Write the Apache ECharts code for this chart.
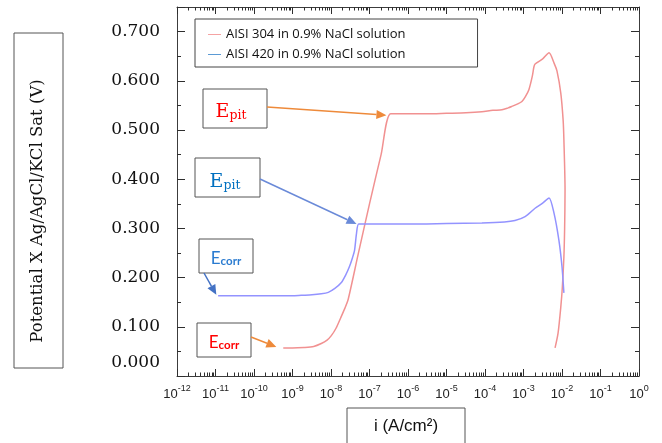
<!DOCTYPE html>
<html><head><meta charset="utf-8">
<script src="https://cdn.jsdelivr.net/npm/echarts@6/dist/echarts.min.js"></script>
<style>html,body{margin:0;padding:0;background:#fff}#c{width:662px;height:443px}</style>
</head><body><div id="c"></div>
<script>
// ---------- data ----------
const seriesNames = ['AISI 304 in 0.9% NaCl solution', 'AISI 420 in 0.9% NaCl solution'];

const current304 = [5.75e-10, 1.0e-9, 2.0e-9, 3.55e-9, 5.6e-9, 7.9e-9, 1.02e-8, 1.35e-8, 1.78e-8, 2.3e-8, 2.8e-8,
  5.0e-8, 1.0e-7, 2.0e-7, 3.55e-7, 1.0e-6, 3.2e-6, 1.0e-5, 3.2e-5, 8.3e-5, 1.6e-4, 2.75e-4, 4.0e-4, 5.0e-4,
  7.1e-4, 9.1e-4, 1.12e-3, 1.38e-3, 1.7e-3, 1.86e-3, 2.0e-3, 3.2e-3, 4.6e-3, 6.3e-3, 7.4e-3, 9.3e-3, 1.07e-2,
  1.12e-2, 1.2e-2, 1.17e-2, 1.12e-2, 1.02e-2, 9.3e-3, 7.9e-3, 6.6e-3];
const potential304 = [0.057, 0.057, 0.058, 0.060, 0.066, 0.073, 0.082, 0.097, 0.118, 0.138, 0.156,
  0.245, 0.350, 0.450, 0.533, 0.533, 0.533, 0.534, 0.535, 0.537, 0.540, 0.541, 0.545, 0.548,
  0.553, 0.558, 0.568, 0.582, 0.610, 0.628, 0.634, 0.645, 0.657, 0.635, 0.620, 0.575, 0.520,
  0.480, 0.378, 0.300, 0.242, 0.180, 0.140, 0.087, 0.057];

const current420 = [1.17e-11, 3.2e-11, 1e-10, 3.2e-10, 1e-9, 1.7e-9, 3.2e-9, 5.6e-9, 8.5e-9, 1.26e-8, 1.86e-8,
  2.4e-8, 3.0e-8, 3.6e-8, 4.1e-8, 4.6e-8, 5.25e-8, 1e-7, 1e-6, 1e-5, 8.3e-5, 3.2e-4, 6.0e-4, 1.1e-3,
  2.0e-3, 3.2e-3, 4.6e-3, 6.2e-3, 8.3e-3, 1.0e-2, 1.12e-2];
const potential420 = [0.163, 0.163, 0.163, 0.163, 0.163, 0.164, 0.165, 0.167, 0.170, 0.178, 0.190,
  0.205, 0.222, 0.240, 0.256, 0.290, 0.309, 0.309, 0.309, 0.310, 0.311, 0.313, 0.316, 0.324,
  0.341, 0.352, 0.362, 0.331, 0.276, 0.222, 0.169];

const xMinExp = -12, xMaxExp = 0;
const yMin = 0, yMax = 0.75, yStep = 0.1;
const minorMultipliers = [2, 3, 4, 5, 6, 7, 8, 9];

const annotMain = ['E', 'E', 'E', 'E'];
const annotSub = ['pit', 'pit', 'corr', 'corr'];
const annotCurrent = [2.75e-7, 4.6e-8, 1.05e-11, 3.8e-10];
const annotPotential = [0.530, 0.309, 0.165, 0.059];

// ---------- chart ----------
const frame = '#3c3c3c';
const tickCol = '#2e2e2e';
const minorLogs = [];
for (let e = xMinExp; e < xMaxExp; e++) minorMultipliers.forEach(m => minorLogs.push(e + Math.log10(m)));

const helperX = (pos, len, custom, labels) => ({
  type: 'value', min: xMinExp, max: xMaxExp, interval: 1, position: pos,
  axisLine: {show: false, onZero: false}, splitLine: {show: false},
  axisTick: Object.assign({show: true, inside: true, length: len, lineStyle: {color: tickCol, width: 1}}, custom ? {customValues: custom} : {}),
  axisLabel: labels ? {
    show: true, margin: 9, color: '#222',
    formatter: v => '{b|10}{s|' + v + '}',
    rich: {
      b: {fontFamily: 'Liberation Sans', fontSize: 13, color: '#222', lineHeight: 16, verticalAlign: 'bottom'},
      s: {fontFamily: 'Liberation Sans', fontSize: 9, color: '#222', lineHeight: 16, verticalAlign: 'bottom', padding: [0, 0, 8, 0]}
    }
  } : {show: false}
});
const logX = pos => ({
  type: 'log', logBase: 10, min: Math.pow(10, xMinExp), max: Math.pow(10, xMaxExp), position: pos,
  axisLine: {show: true, onZero: false, lineStyle: {color: frame, width: 1}},
  axisTick: {show: false}, axisLabel: {show: false}, splitLine: {show: false}
});
const valY = (pos, labels) => ({
  type: 'value', min: yMin, max: yMax, interval: yStep, position: pos,
  axisLine: {show: true, onZero: false, lineStyle: {color: frame, width: 1}},
  axisTick: {show: true, inside: true, length: 8, lineStyle: {color: tickCol, width: 1}},
  minorTick: {show: true, splitNumber: 2, length: 4, lineStyle: {color: tickCol, width: 1}},
  splitLine: {show: false},
  axisLabel: labels ? {
    show: true, margin: 17, showMaxLabel: false,
    formatter: v => (Math.abs(v) < 1e-9 ? '{z|0.000}' : (v > yMax - 0.02 ? '' : '{n|' + v.toFixed(3) + '}')),
    rich: {
      n: {fontFamily: 'DejaVu Serif', fontSize: 17, color: '#111'},
      z: {fontFamily: 'DejaVu Serif', fontSize: 17, color: '#111', padding: [0, 0, 27, 0]}
    }
  } : {show: false}
});

const option = {
  backgroundColor: '#fff',
  animation: false,
  grid: {left: 177, right: 23, top: 7, bottom: 67, containLabel: false},
  legend: {
    left: 195, top: 19, orient: 'vertical',
    padding: [9, 72, 6, 13], itemGap: 7,
    borderColor: '#444', borderWidth: 1,
    icon: 'rect', itemWidth: 13, itemHeight: 1,
    textStyle: {fontFamily: 'Open Sans', fontSize: 13, color: '#111'},
    data: [
      {name: seriesNames[0], itemStyle: {color: '#f5a3a3'}},
      {name: seriesNames[1], itemStyle: {color: '#5b9bd5'}}
    ]
  },
  xAxis: [
    logX('bottom'), logX('top'),
    helperX('bottom', 7, null, true), helperX('top', 7, null, false),
    helperX('bottom', 3.5, minorLogs, false), helperX('top', 3.5, minorLogs, false)
  ],
  yAxis: [valY('left', true), valY('right', false)],
  series: [
    {name: seriesNames[0], type: 'line', xAxisIndex: 0, yAxisIndex: 0, showSymbol: false, symbol: 'none',
     smooth: 0.25, lineStyle: {color: '#f19191', width: 1.5}, itemStyle: {color: '#f19191'},
     data: current304.map((c, i) => [c, potential304[i]])},
    {name: seriesNames[1], type: 'line', xAxisIndex: 0, yAxisIndex: 0, showSymbol: false, symbol: 'none',
     smooth: 0.25, lineStyle: {color: '#9393ff', width: 1.5}, itemStyle: {color: '#9393ff'},
     data: current420.map((c, i) => [c, potential420[i]])}
  ]
};

const chart = echarts.init(document.getElementById('c'), null, {renderer: 'canvas'});
chart.setOption(option);

// ---------- annotations (boxes, titles, arrows) ----------
const P = d => chart.convertToPixel({xAxisIndex: 0, yAxisIndex: 0}, d);
function arrow(x1, y1, tip, color) {
  const [x2, y2] = tip;
  const dx = x2 - x1, dy = y2 - y1, L = Math.hypot(dx, dy), ux = dx / L, uy = dy / L;
  const hl = 10, hw = 4.5;
  const bx = x2 - ux * hl, by = y2 - uy * hl;
  return [
    {type: 'line', shape: {x1, y1, x2: bx, y2: by}, style: {stroke: color, lineWidth: 1.5}, z: 100},
    {type: 'polygon', shape: {points: [[x2, y2], [bx - uy * hw, by + ux * hw], [bx + uy * hw, by - ux * hw]]},
     style: {fill: color}, z: 100}
  ];
}
const box = (x, y, w, h) => ({type: 'rect', shape: {x, y, width: w, height: h},
  style: {fill: '#fff', stroke: '#555', lineWidth: 1}, z: 90});

const serifLbl = (cx, cy, i, color) => ({type: 'text', x: cx, y: cy, z: 95,
  style: {
    text: '{e|' + annotMain[i] + '}{s|' + annotSub[i] + '}', align: 'center', verticalAlign: 'middle',
    rich: {
      e: {fontFamily: 'DejaVu Serif', fontSize: 19, fill: color, lineHeight: 24, verticalAlign: 'bottom'},
      s: {fontFamily: 'DejaVu Serif', fontSize: 12.5, fill: color, lineHeight: 9, verticalAlign: 'bottom'}
    }
  }});
const sansLbl = (cx, cy, i, color) => ({type: 'text', x: cx, y: cy, z: 95,
  style: {
    text: '{e|' + annotMain[i] + '}{s|' + annotSub[i] + '}', align: 'center', verticalAlign: 'middle',
    rich: {
      e: {fontFamily: 'Lato', fontSize: 17, fill: color, lineHeight: 20, verticalAlign: 'bottom'},
      s: {fontFamily: 'Lato', fontSize: 11.5, fontWeight: 'bold', fill: color, lineHeight: 8, verticalAlign: 'bottom'}
    }
  }});

const tips = annotCurrent.map((c, i) => P([c, annotPotential[i]]));
const g = [];
g.push(box(14, 33, 49, 335));
g.push({type: 'text', x: 38, y: 211, rotation: Math.PI / 2, z: 95,
  style: {text: 'Potential X Ag/AgCl/KCl Sat (V)', fontFamily: 'DejaVu Serif', fontSize: 16.5, fill: '#111',
          align: 'center', verticalAlign: 'middle'}});
g.push(box(347, 408, 118, 60));
g.push({type: 'text', x: 406, y: 426, z: 95,
  style: {text: 'i (A/cm\u00B2)', fontFamily: 'Liberation Sans', fontSize: 17, fill: '#111',
          align: 'center', verticalAlign: 'middle'}});
g.push(box(203, 89, 64, 39), serifLbl(231, 110, 0, '#ff0000'));
g.push(box(195, 158, 65, 39), serifLbl(225, 180, 1, '#0070c0'));
g.push(box(199, 239, 54, 34), sansLbl(226, 257, 2, '#2a7bd0'));
g.push(box(197, 323, 54, 34), sansLbl(224, 341, 3, '#ff0000'));
g.push(...arrow(267, 107, tips[0], '#ee8a3a'));
g.push(...arrow(260, 179, tips[1], '#6a8ad8'));
g.push(...arrow(204, 273, tips[2], '#4472c4'));
g.push(...arrow(251, 337, tips[3], '#ee8a3a'));

chart.setOption({graphic: g});
</script>
</body></html>
